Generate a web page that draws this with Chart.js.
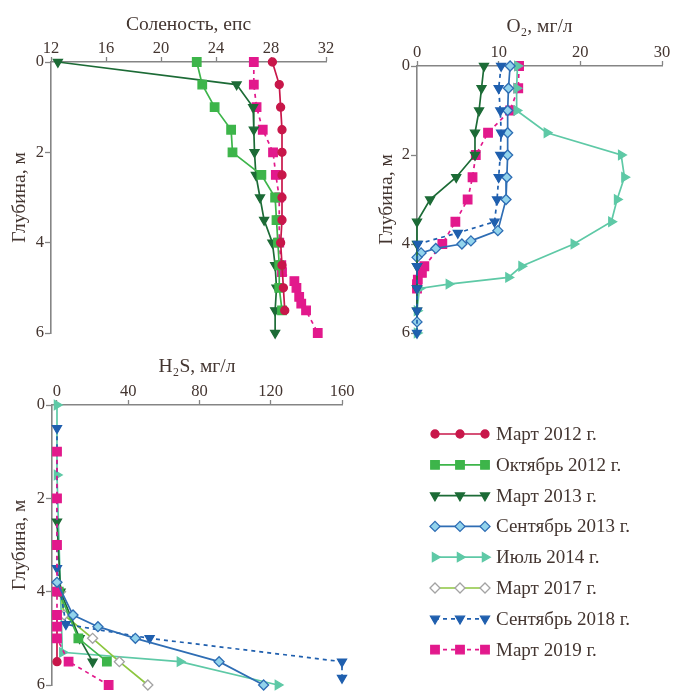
<!DOCTYPE html>
<html>
<head>
<meta charset="utf-8">
<script src="https://cdn.jsdelivr.net/npm/chart.js@4.4.1/dist/chart.umd.min.js"></script>
<style>
    body { margin: 0; background: #fff; width: 674px; height: 693px; position: relative; overflow: hidden; }
    .box { position: absolute; }
</style>
</head>
<body>
<div class="box" style="left:0;top:0;width:345px;height:350px"><canvas id="salChart"></canvas></div>
<div class="box" style="left:345px;top:0;width:329px;height:350px"><canvas id="o2Chart"></canvas></div>
<div class="box" style="left:0;top:350px;width:360px;height:360px"><canvas id="h2sChart"></canvas></div>
<canvas id="legend" width="274" height="260" style="position:absolute;left:400px;top:410px"></canvas>
<script>
// Подписи серий
const seriesNames = ['Март 2012 г.', 'Октябрь 2012 г.', 'Март 2013 г.', 'Сентябрь 2013 г.',
    'Июль 2014 г.', 'Март 2017 г.', 'Сентябрь 2018 г.', 'Март 2019 г.'];

// Деления осей
const depthTicks = [0, 2, 4, 6];
const salTicks = [12, 16, 20, 24, 28, 32];
const o2Ticks = [0, 10, 20, 30];
const h2sTicks = [0, 40, 80, 120, 160];

// Соленость, епс
const salDepthMar2012 = [0, 0.5, 1, 1.5, 2, 2.5, 3, 3.5, 4, 4.5, 5, 5.5];
const salMar2012 = [28.1, 28.6, 28.7, 28.8, 28.8, 28.8, 28.8, 28.8, 28.7, 28.8, 28.9, 29.0];
const salDepthOct2012 = [0, 0.5, 1, 1.5, 2, 2.5, 3, 3.5, 4, 4.5, 5, 5.5];
const salOct2012 = [22.6, 23.0, 23.9, 25.1, 25.2, 27.3, 28.3, 28.4, 28.5, 28.6, 28.6, 28.8];
const salDepthMar2013 = [0, 0.5, 1, 1.5, 2, 2.5, 3, 3.5, 4, 4.5, 5, 5.5, 6];
const salMar2013 = [12.5, 25.5, 26.7, 26.75, 26.8, 26.9, 27.2, 27.5, 28.1, 28.3, 28.4, 28.3, 28.3];
const salDepthMar2019 = [0, 0.5, 1, 1.5, 2, 2.5, 3, 3.5, 4, 4.5, 4.65, 4.85, 5, 5.2, 5.35, 5.5, 6];
const salMar2019 = [26.75, 26.75, 26.95, 27.4, 28.15, 28.35, 28.6, 28.6, 28.6, 28.75, 28.8, 29.7, 29.85, 30.05, 30.2, 30.55, 31.4];

// O2, мг/л
const o2DepthMar2013 = [0, 0.5, 1, 1.5, 2, 2.5, 3, 3.5, 4, 4.5, 5, 5.5];
const o2Mar2013 = [8.2, 7.9, 7.6, 7.1, 7.1, 4.8, 1.6, 0, 0, 0, 0, 0];
const o2DepthSep2013 = [0, 0.5, 1, 1.5, 2, 2.5, 3, 3.7, 3.93, 4.0, 4.1, 4.2, 4.3, 5.75];
const o2Sep2013 = [11.4, 11.2, 11.1, 11.1, 11.1, 11.0, 10.9, 9.9, 6.6, 5.5, 2.3, 0.5, 0, 0];
const o2DepthJul2014 = [0, 0.5, 1, 1.5, 2, 2.5, 3, 3.5, 4, 4.5, 4.75, 4.9, 5.0, 5.5, 6.0];
const o2Jul2014 = [12.3, 12.2, 12.2, 15.9, 25.0, 25.4, 24.5, 23.8, 19.2, 12.8, 11.2, 3.9, 0.3, 0, 0];
const o2DepthSep2018 = [0, 0.5, 1, 1.5, 2, 2.5, 3, 3.5, 3.75, 4.0, 4.5, 5.0, 5.5, 6.0];
const o2Sep2018 = [10.3, 10.0, 10.2, 10.3, 10.2, 10.0, 9.8, 9.5, 5.0, 0.1, 0, 0, 0, 0];
const o2DepthMar2019 = [0, 0.5, 1, 1.5, 2, 2.5, 3, 3.5, 4, 4.5, 4.65, 4.8, 4.9, 5.0];
const o2Mar2019 = [12.5, 12.4, 11.4, 8.7, 7.2, 6.8, 6.2, 4.7, 3.1, 0.9, 0.6, 0.1, 0, 0];

// H2S, мг/л
const h2sDepthMar2012 = [4.5, 5.0, 5.5];
const h2sMar2012 = [0, 0, 0];
const h2sDepthOct2012 = [4.0, 5.0, 5.5];
const h2sOct2012 = [1, 12, 28];
const h2sDepthMar2013 = [2.5, 4.0, 5.0, 5.5];
const h2sMar2013 = [0, 2, 12.7, 20];
const h2sDepthSep2013 = [3.8, 4.5, 4.75, 5.0, 5.5, 6.0];
const h2sSep2013 = [0, 9, 23, 44, 91, 116];
const h2sDepthJul2014 = [0, 1.5, 5.3, 5.5, 6.0];
const h2sJul2014 = [0, 0, 3, 69, 124];
const h2sDepthMar2017 = [4.0, 4.5, 5.0, 5.5, 6.0];
const h2sMar2017 = [2, 4, 20, 35, 51];
const h2sDepthSep2018 = [0.5, 3.5, 4.7, 5.0, 5.5, 5.85];
const h2sSep2018 = [0, 0, 5, 52, 160, 160];
const h2sDepthMar2019 = [1, 2, 3, 4, 4.5, 4.75, 5.0, 5.5, 6.0];
const h2sMar2019 = [0, 0, 0, 0, 0, 0, 0, 6.5, 29];

// Оформление серий (в том же порядке, что и подписи)
const styles = [
    { line: '#c8174a', fill: '#c8174a', edge: '#c8174a', shape: 'circle', rot: 0, r: 4, dash: [] },
    { line: '#3db54a', fill: '#3db54a', edge: '#3db54a', shape: 'rect', rot: 0, r: 6, dash: [] },
    { line: '#1c6b36', fill: '#1c6b36', edge: '#1c6b36', shape: 'triangle', rot: 180, r: 5.2, dash: [] },
    { line: '#2e6db4', fill: '#92d3ec', edge: '#2e6db4', shape: 'rectRot', rot: 0, r: 5, dash: [] },
    { line: '#5ec9a6', fill: '#5ec9a6', edge: '#5ec9a6', shape: 'triangle', rot: 90, r: 5.2, dash: [] },
    { line: '#8dc63f', fill: '#ffffff', edge: '#a3a3a3', shape: 'rectRot', rot: 0, r: 5, dash: [] },
    { line: '#1f5fae', fill: '#1f5fae', edge: '#1f5fae', shape: 'triangle', rot: 180, r: 5.2, dash: [4, 4] },
    { line: '#e2198c', fill: '#e2198c', edge: '#e2198c', shape: 'rect', rot: 0, r: 6, dash: [4, 4] }
];

const textColor = '#433530';
const axisColor = '#858585';
const titleSize = 19.5;
Chart.defaults.font.family = "'Liberation Serif', 'Times New Roman', serif";
Chart.defaults.font.size = 16;
Chart.defaults.color = textColor;

function makeDataset(idx, depths, values) {
    const s = styles[idx];
    return {
        label: seriesNames[idx],
        data: depths.map((d, i) => ({ x: values[i], y: d })),
        showLine: true,
        borderColor: s.line,
        backgroundColor: s.fill,
        borderWidth: 1.7,
        borderDash: s.dash,
        pointStyle: s.shape,
        pointRotation: s.rot,
        pointRadius: s.r,
        pointBackgroundColor: s.fill,
        pointBorderColor: s.edge,
        pointBorderWidth: 1.3,
        tension: 0,
        clip: false
    };
}

function makeOptions(x, y) {
    return {
        responsive: true,
        maintainAspectRatio: false,
        animation: false,
        layout: { padding: x.pad },
        plugins: { legend: { display: false }, tooltip: { enabled: false } },
        scales: {
            x: {
                type: 'linear', position: 'top', min: x.min, max: x.max,
                afterBuildTicks: s => { s.ticks = x.ticks.map(v => ({ value: v })); },
                afterFit: s => { s.height = x.height; },
                grid: { drawOnChartArea: false, color: axisColor, tickLength: 5, tickWidth: 1.3 },
                border: { color: axisColor, width: 1.6 },
                ticks: { color: textColor, padding: -2, maxRotation: 0, font: { size: 16.5 } },
                title: { display: true, text: x.title, color: textColor, font: { size: titleSize }, padding: { top: x.titlePad, bottom: 0 } }
            },
            y: {
                type: 'linear', position: 'left', reverse: true, min: 0, max: 6,
                afterBuildTicks: s => { s.ticks = depthTicks.map(v => ({ value: v })); },
                afterFit: s => { s.width = y.width; },
                grid: { drawOnChartArea: false, color: axisColor, tickLength: 6, tickWidth: 1.3 },
                border: { color: axisColor, width: 1.6 },
                ticks: { color: textColor, padding: 1, font: { size: 16.5 } },
                title: { display: true, text: 'Глубина, м', color: textColor, font: { size: titleSize }, padding: { top: y.titlePad, bottom: 0 } }
            }
        }
    };
}

// Соленость
new Chart(document.getElementById('salChart'), {
    type: 'scatter',
    data: { datasets: [
        makeDataset(0, salDepthMar2012, salMar2012),
        makeDataset(1, salDepthOct2012, salOct2012),
        makeDataset(2, salDepthMar2013, salMar2013),
        makeDataset(7, salDepthMar2019, salMar2019)
    ] },
    options: makeOptions(
        { min: 12, max: 32, ticks: salTicks, title: 'Соленость, епс', height: 62, titlePad: 13,
          pad: { left: 0, top: 0, right: 19, bottom: 17 } },
        { width: 51, titlePad: 8 })
});

// Кислород
new Chart(document.getElementById('o2Chart'), {
    type: 'scatter',
    data: { datasets: [
        makeDataset(6, o2DepthSep2018, o2Sep2018),
        makeDataset(2, o2DepthMar2013, o2Mar2013),
        makeDataset(3, o2DepthSep2013, o2Sep2013),
        makeDataset(4, o2DepthJul2014, o2Jul2014),
        makeDataset(7, o2DepthMar2019, o2Mar2019)
    ] },
    options: makeOptions(
        { min: 0, max: 30, ticks: o2Ticks, title: 'O₂, мг/л', height: 66, titlePad: 15,
          pad: { left: 0, top: 0, right: 12, bottom: 17 } },
        { width: 72, titlePad: 30 })
});

// Сероводород
new Chart(document.getElementById('h2sChart'), {
    type: 'scatter',
    data: { datasets: [
        makeDataset(3, h2sDepthSep2013, h2sSep2013),
        makeDataset(7, h2sDepthMar2019, h2sMar2019),
        makeDataset(6, h2sDepthSep2018, h2sSep2018),
        makeDataset(0, h2sDepthMar2012, h2sMar2012),
        makeDataset(1, h2sDepthOct2012, h2sOct2012),
        makeDataset(2, h2sDepthMar2013, h2sMar2013),
        makeDataset(5, h2sDepthMar2017, h2sMar2017),
        makeDataset(4, h2sDepthJul2014, h2sJul2014)
    ] },
    options: makeOptions(
        { min: -2.8, max: 160, ticks: h2sTicks, title: 'H₂S, мг/л', height: 55, titlePad: 5,
          pad: { left: 0, top: 0, right: 18, bottom: 25 } },
        { width: 52, titlePad: 8 })
});

// Легенда: линия с тремя маркерами и подпись
function drawLegend() {
    const ctx = document.getElementById('legend').getContext('2d');
    const drawPoint = Chart.helpers && Chart.helpers.drawPoint;
    seriesNames.forEach((name, i) => {
        const s = styles[i];
        const y = 24 + i * 30.8;
        ctx.save();
        ctx.strokeStyle = s.line;
        ctx.lineWidth = 1.7;
        ctx.setLineDash(s.dash);
        ctx.beginPath();
        ctx.moveTo(35, y);
        ctx.lineTo(85, y);
        ctx.stroke();
        ctx.setLineDash([]);
        ctx.fillStyle = s.fill;
        ctx.strokeStyle = s.edge;
        ctx.lineWidth = 1.3;
        [35, 60, 85].forEach(x => {
            if (drawPoint) {
                drawPoint(ctx, { pointStyle: s.shape, rotation: s.rot, radius: s.r, borderWidth: 1.3 }, x, y);
            } else {
                ctx.beginPath();
                ctx.arc(x, y, 4, 0, Math.PI * 2);
                ctx.fill();
                ctx.stroke();
            }
        });
        ctx.restore();
        ctx.fillStyle = textColor;
        ctx.font = "19px 'Liberation Serif', serif";
        ctx.textBaseline = 'middle';
        ctx.fillText(name, 96, y + 1);
    });
}
drawLegend();
</script>
</body>
</html>
